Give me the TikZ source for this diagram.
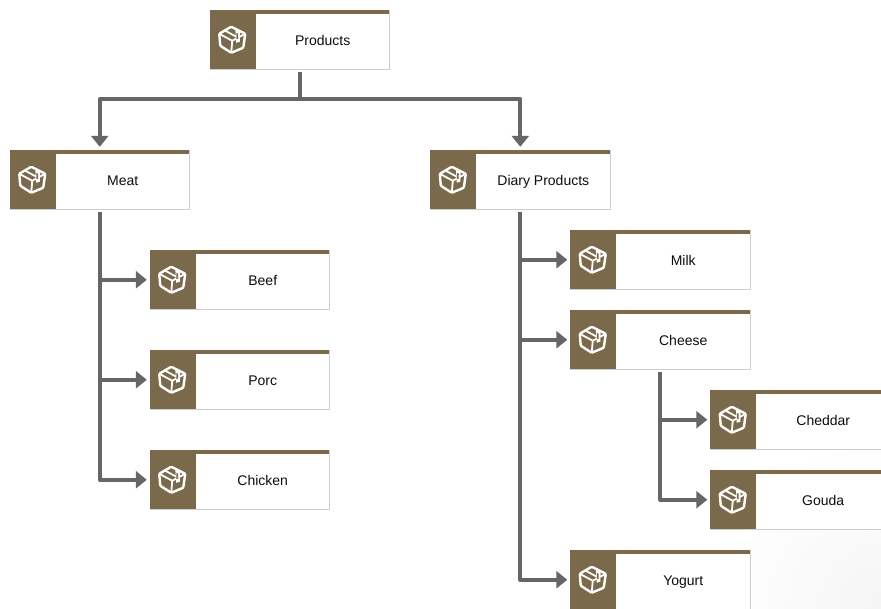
\documentclass[tikz,border=0pt]{standalone}
\usepackage{fontspec}
\setmainfont{Liberation Sans}
\usepackage{xcolor}
\usetikzlibrary{arrows.meta,calc}
\definecolor{prodbrown}{HTML}{7A6A4B}
\definecolor{branchgray}{HTML}{666666}
\definecolor{edgegray}{HTML}{CFCFCF}
\tikzset{
    prodbody/.style={rectangle,fill=white,minimum width=179.5pt,minimum height=59.5pt,inner sep=0pt},
    prodlabel/.style={inner sep=0pt,text height=10pt,text depth=3pt,text=black!95,font=\fontsize{14}{16}\selectfont},
    branch/.style={draw=branchgray,line width=4pt,line join=round,shorten <=2pt,shorten >=3pt,-{Triangle[length=11pt,width=17pt]}},
    boxicon/.pic={
        \draw[white,line width=2.4pt,line join=round,rounded corners=1pt]
            (-1,-13) -- (13,-6) -- (11,8) -- (-1,13) -- (-12,6) -- (-13,-6) -- cycle;
        \draw[white,line width=1.8pt,line join=round] (-13,-6) -- (0,1) -- (13,-6);
        \draw[white,line width=1.8pt] (0,1) -- (-1,13);
        \draw[white,line width=1.8pt] (-7,-9) -- (6,-2);
        \fill[white] (3,-11) -- (8,-8.5) -- (7.5,2) -- (4,3) -- cycle;
        \fill[prodbrown] (4,-7) -- (6,-6) -- (5.8,-1) -- (4.2,-0.5) -- cycle;
    }
}
% one product box: name, centre x, centre y, label
\newcommand{\prodbox}[4]{
    \node[prodbody] (#1) at (#2,#3) {};
    \draw[edgegray,line width=1pt] (#1.north east) -- (#1.south east) -- (#1.south west);
    \fill[prodbrown] (#1.north west) rectangle ++(179.5,4);
    \fill[prodbrown] (#1.north west) rectangle ++(46,59.5);
    \pic at ($(#1.center)+(-67.5,0)$) {boxicon};
    \node[prodlabel] (#1-label) at ($(#1.center)+(23,2)$) {#4};
}
\begin{document}
\begin{tikzpicture}[x=1pt,y=-1pt]
    \clip (0,0) rectangle (881,608);
    \fill[white] (0,0) rectangle (881,608);

    % pale corner of the background
    \shade[inner color=black!4,outer color=white] (881,608) circle (170);

    % top level
    \prodbox{products}{299.75}{39.75}{Products}
    \prodbox{meat}{99.75}{179.75}{Meat}
    \prodbox{diary}{520.3}{179.75}{Diary Products}

    % meat group
    \prodbox{beef}{239.75}{279.75}{Beef}
    \prodbox{porc}{239.75}{379.75}{Porc}
    \prodbox{chicken}{239.75}{479.75}{Chicken}

    % diary group
    \prodbox{milk}{660.25}{259.75}{Milk}
    \prodbox{cheese}{660.25}{339.75}{Cheese}
    \prodbox{yogurt}{660.25}{579.75}{Yogurt}
    \prodbox{cheddar}{800.25}{419.75}{Cheddar}
    \prodbox{gouda}{800.25}{499.75}{Gouda}

    % connectors
    \coordinate (bus) at (299.75,99);
    \draw[branch] (products.south) -- (bus) -| (meat.north);
    \draw[branch] (products.south) -- (bus) -| (diary.north);

    \draw[branch] (meat.south) |- (beef.west);
    \draw[branch] (meat.south) |- (porc.west);
    \draw[branch] (meat.south) |- (chicken.west);

    \draw[branch] (diary.south) |- (milk.west);
    \draw[branch] (diary.south) |- (cheese.west);
    \draw[branch] (diary.south) |- (yogurt.west);

    \draw[branch] (cheese.south) |- (cheddar.west);
    \draw[branch] (cheese.south) |- (gouda.west);
\end{tikzpicture}
\end{document}
